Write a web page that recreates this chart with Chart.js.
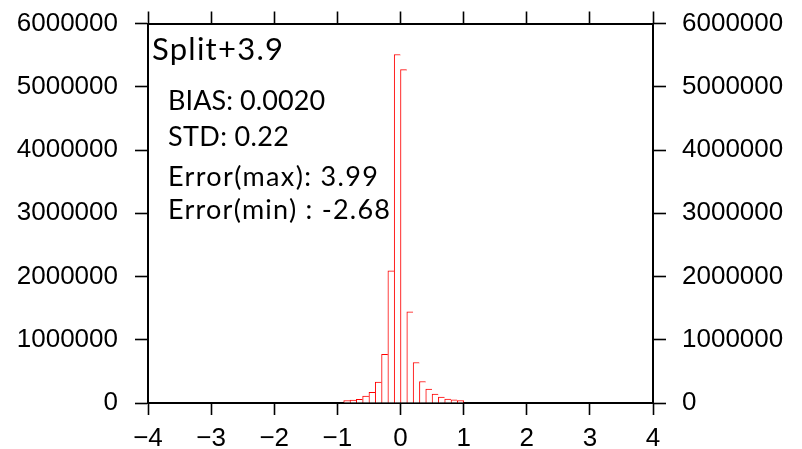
<!DOCTYPE html>
<html>
<head>
<meta charset="utf-8">
<script src="https://cdn.jsdelivr.net/npm/chart.js@4"></script>
<style>
  html, body { margin: 0; padding: 0; background: #ffffff; }
  #wrap { width: 802px; height: 449px; position: relative; }
</style>
</head>
<body>
<div id="wrap"><canvas id="c" width="802" height="449"></canvas></div>
<script>
// ---- data ----
const binCenters = [-0.85, -0.75, -0.65, -0.55, -0.45, -0.35, -0.25, -0.15, -0.05,
                     0.05, 0.15, 0.25, 0.35, 0.45, 0.55, 0.65, 0.75, 0.85, 0.95];
const counts = [40000, 45000, 60000, 110000, 170000, 330000, 770000, 2090000, 5510000,
                5270000, 1440000, 640000, 340000, 220000, 140000, 95000, 63000, 50000, 40000];
const xTickValues = [-4, -3, -2, -1, 0, 1, 2, 3, 4];
const yTickValues = [0, 1000000, 2000000, 3000000, 4000000, 5000000, 6000000];
const titleText = 'Split+3.9';
const statLines = ['BIAS: 0.0020', 'STD: 0.22', 'Error(max): 3.99', 'Error(min) : -2.68'];

const tickFont = { family: '"Liberation Sans", Arial, sans-serif', size: 26 };
const fmtX = v => (v < 0 ? '\u2212' + Math.abs(v) : String(v));
const fmtY = v => String(v);

// width each annotation line occupies in the reference (used to fit letter spacing)
const titleWidth = 131;
const statWidths = [157, 121, 210, 222];

function drawFitted(ctx, text, x, y, target) {
  ctx.letterSpacing = '0px';
  const w = ctx.measureText(text).width;
  const n = Math.max(text.length - 1, 1);
  const ls = Math.max(-1, Math.min(3, (target - w) / n));
  ctx.letterSpacing = ls.toFixed(2) + 'px';
  ctx.fillText(text, x, y);
  ctx.letterSpacing = '0px';
}

const statsPlugin = {
  id: 'stats',
  afterDatasetsDraw(chart) {
    const { ctx, chartArea } = chart;
    ctx.save();
    ctx.fillStyle = '#000';
    ctx.textBaseline = 'alphabetic';
    ctx.textAlign = 'left';
    ctx.font = '31px Lato, "Open Sans", sans-serif';
    drawFitted(ctx, titleText, chartArea.left + 4, chartArea.top + 36, titleWidth);
    ctx.font = '27px Lato, "Open Sans", sans-serif';
    const baselines = [86, 122, 162, 195];
    statLines.forEach((t, i) =>
      drawFitted(ctx, t, chartArea.left + 20, chartArea.top + baselines[i], statWidths[i]));
    ctx.restore();
  }
};

const gridCommon = (len) => ({
  display: true, drawOnChartArea: false, drawTicks: true, offset: false,
  tickLength: len, tickWidth: 1.6, tickColor: '#000', color: '#000'
});
const borderCommon = { display: true, color: '#000', width: 2 };

new Chart(document.getElementById('c'), {
  type: 'bar',
  data: {
    datasets: [{
      data: binCenters.map((x, i) => ({ x: x, y: counts[i] })),
      backgroundColor: '#ffffff',
      borderColor: '#ff0000',
      borderWidth: (c) => ({ top: 1, left: 1, bottom: 0,
                             right: c.dataIndex === counts.length - 1 ? 1 : 0 }),
      barPercentage: 1,
      categoryPercentage: 1,
      xAxisID: 'x', yAxisID: 'y'
    }]
  },
  options: {
    responsive: false,
    animation: false,
    events: [],
    layout: { padding: 0 },
    plugins: { legend: { display: false }, tooltip: { enabled: false }, title: { display: false } },
    scales: {
      x: {
        type: 'linear', position: 'bottom', min: -4, max: 4, offset: false,
        grid: gridCommon(12), border: borderCommon,
        afterBuildTicks: s => { s.ticks = xTickValues.map(v => ({ value: v })); },
        ticks: { font: tickFont, color: '#000', padding: 8, maxRotation: 0, autoSkip: false,
                 callback: v => fmtX(v) },
        afterFit: s => { s.height = 46; s.paddingLeft = 0; s.paddingRight = 0; }
      },
      x2: {
        type: 'linear', position: 'top', min: -4, max: 4, offset: false,
        grid: gridCommon(12), border: borderCommon,
        afterBuildTicks: s => { s.ticks = xTickValues.map(v => ({ value: v })); },
        ticks: { display: false },
        afterFit: s => { s.height = 23.5; s.paddingLeft = 0; s.paddingRight = 0; }
      },
      y: {
        type: 'linear', position: 'left', min: 0, max: 6000000,
        grid: gridCommon(13), border: borderCommon,
        afterBuildTicks: s => { s.ticks = yTickValues.map(v => ({ value: v })); },
        ticks: { font: tickFont, color: '#000', padding: 17, callback: v => fmtY(v) },
        afterFit: s => { s.width = 148; s.paddingTop = 0; s.paddingBottom = 0; }
      },
      y2: {
        type: 'linear', position: 'right', min: 0, max: 6000000,
        grid: gridCommon(13), border: borderCommon,
        afterBuildTicks: s => { s.ticks = yTickValues.map(v => ({ value: v })); },
        ticks: { font: tickFont, color: '#000', padding: 16, callback: v => fmtY(v) },
        afterFit: s => { s.width = 149; s.paddingTop = 0; s.paddingBottom = 0; }
      }
    }
  },
  plugins: [statsPlugin]
});
</script>
</body>
</html>
